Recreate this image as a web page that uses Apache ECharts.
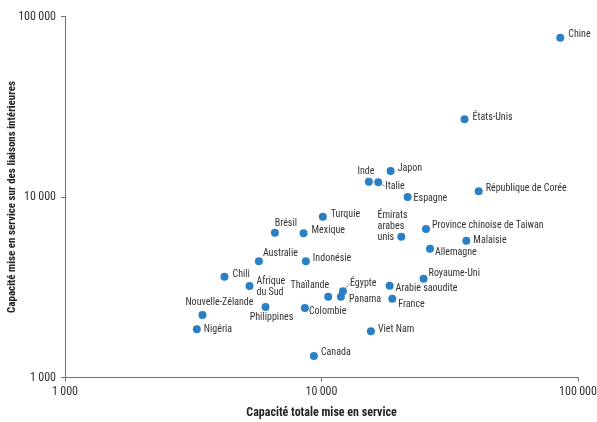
<!DOCTYPE html>
<html><head><meta charset="utf-8">
<script src="https://cdn.jsdelivr.net/npm/echarts@6/dist/echarts.min.js"></script>
<style>html,body{margin:0;padding:0;background:#fff}#c{width:597px;height:422px}</style>
</head><body><div id="c"></div>
<script>
// Data (log-log scatter)
const countries = ["Chine","États-Unis","Japon","Inde","Italie","Espagne","République de Corée","Brésil","Australie","Chili","Afrique du Sud","Nouvelle-Zélande","Nigéria","Philippines","Turquie","Mexique","Indonésie","Émirats arabes unis","Province chinoise de Taiwan","Malaisie","Allemagne","Royaume-Uni","Arabie saoudite","France","Thaïlande","Égypte","Panama","Colombie","Viet Nam","Canada"];
const totalCapacity = [85300,36100,18600,15300,16640,21660,41000,6580,5700,4185,5240,3435,3265,6048,10120,8510,8690,20470,25550,36700,26480,25000,18430,18880,10620,12120,11900,8615,15580,9340];
const domesticCapacity = [76300,26950,13930,12160,12060,10000,10755,6345,4400,3620,3213,2220,1849,2459,7780,6293,4404,6026,6647,5728,5172,3527,3226,2733,2803,3003,2803,2427,1803,1316];
const xTicks = [1000, 10000, 100000];
const yTicks = [1000, 10000, 100000];
const xTitle = "Capacité totale mise en service";
const yTitle = "Capacité mise en service sur des liaisons intérieures";

// label display (line breaks) and placement: [align, dx, dy]
const labelText = {"Afrique du Sud":"Afrique\ndu Sud","Émirats arabes unis":"Émirats\narabes\nunis"};
const labelPlace = {
 "Chine":["left",8,-3],"États-Unis":["left",8,-2],"Japon":["left",7,-3],"Inde":["center",-3,-10],
 "Italie":["left",7,4],"Espagne":["left",6,1],"République de Corée":["left",7,-3],"Brésil":["center",11,-9],
 "Australie":["left",4,-8],"Chili":["left",8,-2.5],"Afrique du Sud":["left",7,0.7],"Nouvelle-Zélande":["center",17,-12],
 "Nigéria":["left",7,0],"Philippines":["center",6,11],"Turquie":["left",8,-2],"Mexique":["left",8,-3],
 "Indonésie":["left",7,-3],"Émirats arabes unis":["left",-23.7,-10],"Province chinoise de Taiwan":["left",6,-4],
 "Malaisie":["left",7,0],"Allemagne":["left",5,4],"Royaume-Uni":["left",5,-5],"Arabie saoudite":["left",6,3],
 "France":["left",6,6],"Thaïlande":["right",1,-11],"Égypte":["left",7,-8],"Panama":["left",8,2.6],
 "Colombie":["left",4,4],"Viet Nam":["left",7,-2],"Canada":["left",7,-3]
};
const withLeader = {"Italie": true, "Égypte": true};

const FONT = "'Roboto Condensed', 'Liberation Sans Narrow', 'Arial Narrow', sans-serif";
const fmt = v => String(v).replace(/\B(?=(\d{3})+(?!\d))/g, "\u2009");

const data = countries.map((c, i) => {
  const p = labelPlace[c];
  const item = {
    name: c,
    value: [totalCapacity[i], domesticCapacity[i]],
    label: {
      show: true, position: 'inside', align: p[0], verticalAlign: 'middle',
      offset: [p[1], p[2]], formatter: labelText[c] || c, lineHeight: 11
    }
  };
  if (withLeader[c]) item.labelLine = {show: true, lineStyle: {color: '#9a9a9a', width: 1}};
  return item;
});

const chart = echarts.init(document.getElementById('c'), null, {renderer: 'canvas'});
chart.setOption({
  animation: false,
  textStyle: {fontFamily: FONT},
  grid: {left: 65, right: 19, top: 16.5, bottom: 44.5, containLabel: false, outerBoundsMode: 'none'},
  xAxis: {
    type: 'log', logBase: 10, min: xTicks[0], max: xTicks[xTicks.length-1],
    name: xTitle, nameLocation: 'middle', nameGap: 29, nameMoveOverlap: false,
    nameTextStyle: {fontFamily: FONT, fontWeight: 'bold', fontSize: 12, color: '#222'},
    axisLine: {show: true, lineStyle: {color: '#6e6e6e', width: 1}},
    axisTick: {show: true, length: 4, lineStyle: {color: '#6e6e6e'}},
    axisLabel: {fontFamily: FONT, fontSize: 12, color: '#333', margin: 8, formatter: fmt},
    splitLine: {show: false}, minorTick: {show: false}
  },
  yAxis: {
    type: 'log', logBase: 10, min: yTicks[0], max: yTicks[yTicks.length-1],
    name: yTitle, nameLocation: 'middle', nameGap: 47, nameRotate: 90, nameMoveOverlap: false,
    nameTextStyle: {fontFamily: FONT, fontWeight: 'bold', fontSize: 11, color: '#222'},
    axisLine: {show: true, lineStyle: {color: '#6e6e6e', width: 1}},
    axisTick: {show: true, length: 4, lineStyle: {color: '#6e6e6e'}},
    axisLabel: {fontFamily: FONT, fontSize: 12, color: '#333', margin: 9, formatter: fmt},
    splitLine: {show: false}, minorTick: {show: false}
  },
  series: [{
    type: 'scatter',
    symbol: 'circle', symbolSize: 8,
    itemStyle: {color: '#2b80c5', opacity: 1},
    label: {fontFamily: FONT, fontSize: 10, color: '#333'},
    data: data
  }]
});
</script></body></html>
